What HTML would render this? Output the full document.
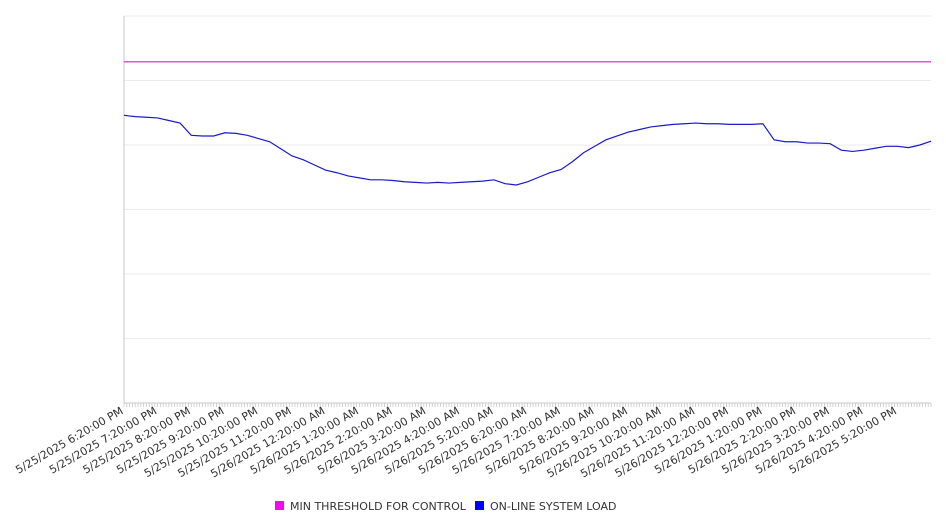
<!DOCTYPE html>
<html><head><meta charset="utf-8"><style>
body{margin:0;background:#fff;width:946px;height:526px;overflow:hidden;font-family:"DejaVu Sans","Liberation Sans",sans-serif}
</style></head><body>
<svg id="chart" width="946" height="526" xmlns="http://www.w3.org/2000/svg"></svg>
<script>
const loadValues=[44.6,44.4,44.3,44.2,43.8,43.4,41.5,41.4,41.4,41.9,41.8,41.5,41.0,40.5,39.4,38.3,37.7,36.9,36.1,35.7,35.2,34.9,34.6,34.6,34.5,34.3,34.2,34.1,34.2,34.1,34.2,34.3,34.4,34.6,34.0,33.8,34.3,35.0,35.7,36.2,37.4,38.8,39.8,40.8,41.4,42.0,42.4,42.8,43.0,43.2,43.3,43.4,43.3,43.3,43.2,43.2,43.2,43.3,40.8,40.5,40.5,40.3,40.3,40.2,39.2,39.0,39.2,39.5,39.8,39.8,39.6,40.0,40.6];
const loadMinutes=loadValues.map((v,i)=>i*20);
const thresholdValue=52.9;
const yTicks=[0,10,20,30,40,50,60];
const xTickLabels=["5/25/2025 6:20:00 PM","5/25/2025 7:20:00 PM","5/25/2025 8:20:00 PM","5/25/2025 9:20:00 PM","5/25/2025 10:20:00 PM","5/25/2025 11:20:00 PM","5/26/2025 12:20:00 AM","5/26/2025 1:20:00 AM","5/26/2025 2:20:00 AM","5/26/2025 3:20:00 AM","5/26/2025 4:20:00 AM","5/26/2025 5:20:00 AM","5/26/2025 6:20:00 AM","5/26/2025 7:20:00 AM","5/26/2025 8:20:00 AM","5/26/2025 9:20:00 AM","5/26/2025 10:20:00 AM","5/26/2025 11:20:00 AM","5/26/2025 12:20:00 PM","5/26/2025 1:20:00 PM","5/26/2025 2:20:00 PM","5/26/2025 3:20:00 PM","5/26/2025 4:20:00 PM","5/26/2025 5:20:00 PM"];

const NS="http://www.w3.org/2000/svg",svg=document.getElementById('chart');
const L=124,R=931,T=16,B=403,totalMin=1440;
const xs=m=>L+m/totalMin*(R-L);
const ys=v=>B-v/60*(B-T);
function mk(t,a,p){const e=document.createElementNS(NS,t);for(const k in a)e.setAttribute(k,a[k]);(p||svg).appendChild(e);return e;}
yTicks.forEach(v=>{const g=mk('line',{x1:L,x2:R,y1:ys(v),y2:ys(v),stroke:'#ebebeb','stroke-width':1});

});
const ax=mk('line',{x1:L,x2:L,y1:T,y2:B,stroke:'#c8c8c8','stroke-width':1});


const bx=mk('line',{x1:L,x2:R,y1:B,y2:B,stroke:'#c8c8c8','stroke-width':1});


for(let m=0;m<=totalMin;m+=5){const t=mk('line',{x1:xs(m),x2:xs(m),y1:B,y2:B+4,stroke:'#c8c8c8','stroke-width':0.8});

}
xTickLabels.forEach((s,i)=>{const x=xs(i*60),y=B+10;
const t=mk('text',{x:x,y:y,'text-anchor':'end','font-size':11,fill:'#333',transform:`rotate(-30 ${x} ${y})`});
t.textContent=s;

});
const th=mk('line',{x1:L,x2:R,y1:ys(thresholdValue),y2:ys(thresholdValue),stroke:'#cc22cc','stroke-width':1.2});


const p=mk('polyline',{points:loadValues.map((v,i)=>xs(loadMinutes[i])+','+ys(v)).join(' '),fill:'none',stroke:'#1a1acc','stroke-width':1.2});


const lg=mk('g',{});


[[275,'#ff00ff','MIN THRESHOLD FOR CONTROL'],[475,'#0000ff','ON-LINE SYSTEM LOAD']].forEach(([x,c,s])=>{
const r=mk('rect',{x:x,y:501,width:9,height:9,fill:c},lg);


const t=mk('text',{x:x+15,y:510,'font-size':11,fill:'#333'},lg);t.textContent=s;

});
</script>
</body></html>
